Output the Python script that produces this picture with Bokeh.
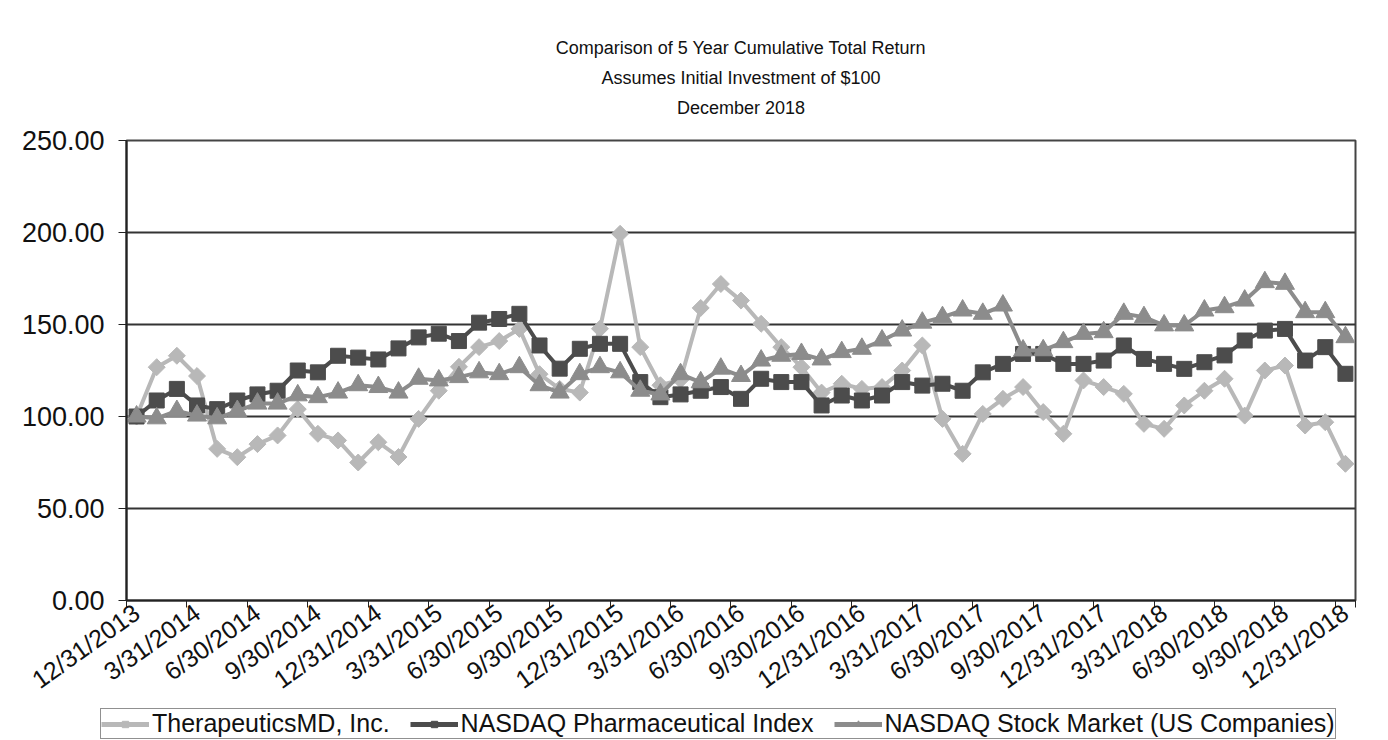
import math
from bokeh.plotting import figure
from bokeh.layouts import column
from bokeh.models import Range1d, FixedTicker, PrintfTickFormatter, Title, Legend, LegendItem
from bokeh.embed import file_html
from bokeh.resources import INLINE

tick_labels = ["12/31/2013", "3/31/2014", "6/30/2014", "9/30/2014", "12/31/2014",
               "3/31/2015", "6/30/2015", "9/30/2015", "12/31/2015", "3/31/2016",
               "6/30/2016", "9/30/2016", "12/31/2016", "3/31/2017", "6/30/2017",
               "9/30/2017", "12/31/2017", "3/31/2018", "6/30/2018", "9/30/2018",
               "12/31/2018"]

therapeutics = [100, 126.8, 133, 122, 82.4, 77.9, 85, 89.7, 104, 90.6, 87, 75, 86, 78, 98.7,
                114, 127, 137.7, 141, 147.6, 123, 115, 113, 147.7, 199.3, 137.7, 117, 120, 159, 172,
                163, 150.4, 137.7, 126.8, 113, 117.8, 115, 116, 125, 138.6, 98.7, 79.7, 101.4, 109.6, 116,
                102.4, 90.6, 119.6, 116, 112.3, 96, 93.3, 106, 114, 120.5, 100.5, 125, 127.7, 95.1, 96.9,
                74.3]
pharma = [100, 108.7, 115, 106, 104, 108.7, 112, 114, 125, 124, 133, 132, 131, 137, 143,
          145, 141, 151, 153, 155.8, 138.6, 126, 136.8, 139.5, 139.5, 118.7, 110.5, 112, 114, 116,
          109.6, 120.5, 118.7, 118.7, 106, 111.4, 108.7, 111.4, 118.7, 116.8, 117.8, 114, 124, 128.6, 134,
          134, 128.6, 128.6, 130.4, 138.6, 131.3, 128.6, 125.9, 129.5, 133.2, 141.3, 146.7, 147.6, 130.4, 137.7,
          123.2]
nasdaq = [100, 99, 103, 100.5, 99, 103, 107, 107, 111.5, 110.5, 113, 117, 116, 113, 120.5,
          119.6, 121.4, 124, 123, 126.8, 117, 113, 123, 126.8, 124, 114, 112, 123, 118.6, 126,
          122, 130.4, 133, 134, 131, 135, 136.8, 141.3, 146.7, 151, 154, 157.6, 155.8, 160.3, 135.9,
          136, 140.4, 144.9, 145.8, 155.8, 154, 149.5, 149.5, 157.6, 159.4, 163, 173, 172.1, 156.7, 156.7,
          143.1]
series_names = ["TherapeuticsMD, Inc.", "NASDAQ Pharmaceutical Index",
                "NASDAQ Stock Market (US Companies)"]
title_lines = ["Comparison of 5 Year Cumulative Total Return",
               "Assumes Initial Investment of $100",
               "December 2018"]

months = list(range(len(therapeutics)))
FONT = "Liberation Sans"
c1, c2, c3 = "#b8b8b8", "#4c4c4c", "#8c8c8c"

p = figure(frame_width=1229, frame_height=460, output_backend="svg", toolbar_location=None,
           x_range=Range1d(-0.5, len(months) - 0.5), y_range=Range1d(0, 250),
           min_border_left=126, min_border_right=27, min_border_top=140, min_border_bottom=104)
p.background_fill_color = "white"
p.border_fill_color = "white"
p.outline_line_color = "#444444"
p.outline_line_width = 2

# spacer closest to the frame, then the three title lines
p.add_layout(Title(text=" ", text_font_size="15px", standoff=0), "above")
for line in reversed(title_lines):
    p.add_layout(Title(text=line, align="center", text_font=FONT, text_font_size="18px",
                       text_font_style="normal", text_color="#111111", standoff=8), "above")

# y axis
p.yaxis.ticker = FixedTicker(ticks=[0, 50, 100, 150, 200, 250])
p.yaxis.formatter = PrintfTickFormatter(format="%.2f")
p.yaxis.major_label_text_font = FONT
p.yaxis.major_label_text_font_size = "27px"
p.yaxis.major_label_text_color = "#111111"
p.yaxis.axis_line_color = "#222222"
p.yaxis.axis_line_width = 2
p.yaxis.major_tick_line_color = "#222222"
p.yaxis.major_tick_out = 8
p.yaxis.major_tick_in = 0
p.yaxis.minor_tick_line_color = None
p.yaxis.major_label_standoff = 14

# x axis
idx_ticks = list(range(0, len(months), 3))
p.xaxis.ticker = FixedTicker(ticks=idx_ticks,
                             minor_ticks=[t - 0.5 for t in idx_ticks] + [len(months) - 0.5])
p.xaxis.major_label_overrides = {t: lab for t, lab in zip(idx_ticks, tick_labels)}
p.xaxis.major_label_orientation = 0.62
p.xaxis.major_label_text_font = FONT
p.xaxis.major_label_text_font_size = "25px"
p.xaxis.major_label_text_color = "#111111"
p.xaxis.major_tick_line_color = None
p.xaxis.minor_tick_line_color = "#222222"
p.xaxis.minor_tick_out = 7
p.xaxis.minor_tick_in = 0
p.xaxis.axis_line_color = "#222222"
p.xaxis.axis_line_width = 2
p.xaxis.major_label_standoff = 2

p.xgrid.grid_line_color = None
p.ygrid.ticker = FixedTicker(ticks=[50, 100, 150, 200, 250])
p.ygrid.grid_line_color = "#333333"
p.ygrid.grid_line_width = 2

# series
p.line(months, therapeutics, line_color=c1, line_width=4)
p.scatter(months, therapeutics, marker="square", angle=math.pi / 4, size=12,
          fill_color=c1, line_color=c1)
p.line(months, pharma, line_color=c2, line_width=4)
p.scatter(months, pharma, marker="square", size=15, fill_color=c2, line_color=c2)
p.line(months, nasdaq, line_color=c3, line_width=4)
p.scatter(months, nasdaq, marker="triangle", size=19, fill_color=c3, line_color=c3)

# legend strip below the chart; key renderers sit outside its visible range
lg = figure(width=1382, height=36, output_backend="svg", toolbar_location=None,
            x_range=Range1d(0, 1), y_range=Range1d(0, 1),
            min_border_left=0, min_border_right=0, min_border_top=0, min_border_bottom=0)
aligned = True
if "frame_align" in lg.properties():
    lg.frame_align = False
    p.frame_align = False
    aligned = False
lg.axis.visible = False
lg.grid.visible = False
lg.outline_line_color = None
lg.border_fill_color = "white"
kx, ky = [5, 6], [5, 6]
k1 = [lg.line(kx, ky, line_color=c1, line_width=5),
      lg.scatter(kx, ky, marker="square", angle=math.pi / 4, size=11, fill_color=c1, line_color=c1)]
k2 = [lg.line(kx, ky, line_color=c2, line_width=5),
      lg.scatter(kx, ky, marker="square", size=13, fill_color=c2, line_color=c2)]
k3 = [lg.line(kx, ky, line_color=c3, line_width=5),
      lg.scatter(kx, ky, marker="triangle", size=15, fill_color=c3, line_color=c3)]
legend = Legend(items=[LegendItem(label=series_names[0], renderers=k1),
                       LegendItem(label=series_names[1], renderers=k2),
                       LegendItem(label=series_names[2], renderers=k3)],
                orientation="horizontal", location=(0 if aligned else 100, 4),
                label_text_font=FONT, label_text_font_size="25px", label_text_color="#111111",
                label_text_line_height=0.95,
                glyph_width=48, glyph_height=16, label_standoff=3, spacing=20,
                padding=0, margin=0, border_line_color="#222222", border_line_width=1,
                label_height=18)
lg.add_layout(legend, "center")

layout = column(p, lg, spacing=0)
open("out.html", "w").write(file_html(layout, INLINE))
